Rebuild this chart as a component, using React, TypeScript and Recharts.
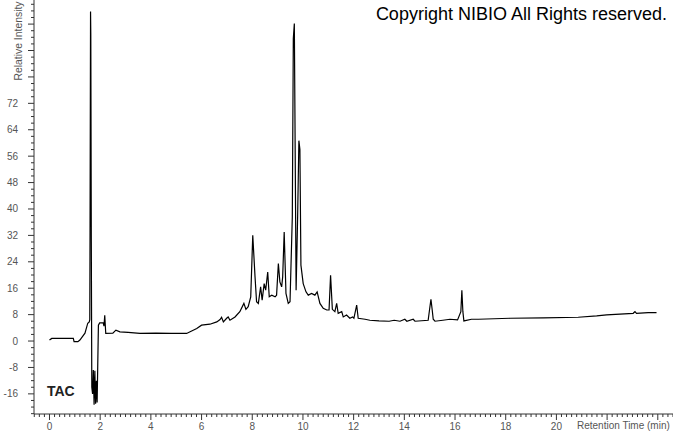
import React from "react";
import { LineChart, Line, XAxis, YAxis } from "recharts";

// retention time (min) and relative intensity
const times = [
  0.0, 0.09, 0.94, 0.97, 1.12, 1.2, 1.4, 1.51, 1.57, 1.59, 1.6, 1.62, 1.63, 1.65, 1.67, 1.7, 1.73, 1.76,
  1.79, 1.82, 1.85, 1.88, 1.93, 1.98, 2.12, 2.15, 2.18, 2.22, 2.5, 2.62, 2.78, 3.1, 3.57, 4.2, 4.8, 5.41,
  5.81, 6.0, 6.33, 6.6, 6.73, 6.79, 6.86, 6.99, 7.05, 7.12, 7.32, 7.51, 7.67, 7.75, 7.84, 7.94, 8.02, 8.11,
  8.17, 8.24, 8.33, 8.39, 8.47, 8.53, 8.61, 8.67, 8.77, 8.9, 8.96, 9.03, 9.09, 9.16, 9.2, 9.26, 9.33, 9.42,
  9.49, 9.58, 9.62, 9.66, 9.73, 9.79, 9.84, 9.88, 9.92, 10.01, 10.12, 10.21, 10.34, 10.47, 10.56, 10.67,
  10.8, 10.94, 11.03, 11.09, 11.16, 11.26, 11.33, 11.39, 11.53, 11.59, 11.72, 11.85, 11.96, 12.01, 12.12,
  12.18, 12.45, 12.64, 13.0, 13.4, 13.6, 13.83, 14.02, 14.1, 14.35, 14.42, 14.94, 15.01, 15.05, 15.1, 15.14,
  15.21, 15.52, 15.8, 16.1, 16.23, 16.27, 16.31, 16.35, 16.65, 16.92, 18.17, 19.48, 20.86, 21.59, 21.98,
  23.03, 23.1, 23.16, 23.62, 23.95,
];

const intensity = [
  0.3, 0.8, 0.8, -0.2, -0.2, 0.3, 2.4, 5.4, 5.8, 6.5, 33, 99.8, 93, 30, -14, -16, -8.8, -19.3,
  -9, -19, -12, -18.6, 4.8, 5.5, 5.5, 4.5, 7.8, 2.3, 2.4, 3.3, 2.8, 2.6, 2.3, 2.4, 2.3, 2.3,
  3.8, 4.8, 5.1, 5.8, 6.5, 7.2, 5.8, 6.9, 7.3, 6.3, 7.3, 8.9, 11.4, 9.6, 10.4, 13.4, 32, 19.4,
  11.9, 11.4, 16.4, 12.4, 17.4, 15.4, 20.9, 13.4, 13.9, 13.4, 13.9, 23.5, 17.9, 16.4, 19.4, 33, 14.4, 11.4,
  11.9, 37.5, 91.6, 96.2, 15.4, 37.5, 60.7, 58, 23, 17.4, 14.9, 13.9, 14.4, 13.9, 14.9, 11.4,
  9.9, 9.4, 9.4, 19.9, 9.6, 8.9, 11.4, 8.4, 8.9, 7.3, 7.9, 6.9, 7.3, 6.9, 10.9,
  6.9, 6.6, 6.3, 6.1, 6.0, 6.3, 6.0, 6.6, 6.0, 6.6, 6.0, 6.3, 10.4, 12.6, 9.4, 6.6,
  6.0, 6.3, 6.6, 6.4, 8.9, 15.4, 8.9, 6.1, 6.6, 6.6, 6.9, 7.0, 7.2, 7.6, 7.9,
  8.4, 8.9, 8.4, 8.6, 8.6,
];

const xDomain = [-0.611, 24.6];
const yDomain = [-22.1, 103.3];

// minor ticks every 0.2 min / 2 units, labelled majors
const xTicks: number[] = [];
for (let k = -3; k <= 123; k++) xTicks.push(Math.round(k * 2) / 10);
const yTicks: number[] = [];
for (let k = -11; k <= 51; k++) yTicks.push(k * 2);
const xLabelMax = 20;
const yLabelMin = -16;
const yLabelMax = 72;

const data = times.map((t, i) => ({ t, v: intensity[i] }));

const AXIS = "#333";
const LABEL = "#555";
const FONT = "Arial, 'Liberation Sans', sans-serif";

function XTick({ x, y, payload }: any) {
  const v = payload.value;
  const major = Math.abs(v / 2 - Math.round(v / 2)) < 1e-6;
  return (
    <g>
      <line x1={x} x2={x} y1={y} y2={y + (major ? 6 : 3)} stroke={AXIS} />
      {major && v >= 0 && v <= xLabelMax && (
        <text x={x} y={y + 16} textAnchor="middle" fontSize={10} fill={LABEL} fontFamily={FONT}>
          {v}
        </text>
      )}
    </g>
  );
}

function YTick({ x, y, payload }: any) {
  const v = payload.value;
  const major = v % 8 === 0;
  return (
    <g>
      <line x1={x - (major ? 6 : 3)} x2={x} y1={y} y2={y} stroke={AXIS} />
      {major && v >= yLabelMin && v <= yLabelMax && (
        <text x={18} y={y + 3.5} textAnchor="end" fontSize={10} fill={LABEL} fontFamily={FONT}>
          {v}
        </text>
      )}
    </g>
  );
}

export default function App() {
  return (
    <div style={{ position: "absolute", left: 0, top: 0, width: 673, height: 433, background: "#fff", overflow: "hidden" }}>
      <LineChart width={673} height={433} data={data} margin={{ top: 0, right: 0, left: 0, bottom: 0 }}>
        <XAxis
          dataKey="t"
          type="number"
          domain={xDomain}
          allowDataOverflow
          ticks={xTicks}
          interval={0}
          tick={<XTick />}
          tickLine={false}
          tickSize={0}
          tickMargin={0}
          height={19}
          axisLine={{ stroke: AXIS }}
        />
        <YAxis
          type="number"
          domain={yDomain}
          allowDataOverflow
          ticks={yTicks}
          interval={0}
          tick={<YTick />}
          tickLine={false}
          tickSize={0}
          tickMargin={0}
          width={34}
          axisLine={{ stroke: AXIS }}
        />
        <Line
          type="linear"
          dataKey="v"
          stroke="#000"
          strokeWidth={1.2}
          dot={false}
          activeDot={false}
          isAnimationActive={false}
        />
      </LineChart>
      <div
        style={{
          position: "absolute",
          left: 18,
          top: 41,
          transform: "translate(-50%, -50%) rotate(-90deg)",
          fontFamily: FONT,
          fontSize: 10.4,
          color: LABEL,
          whiteSpace: "nowrap",
        }}
      >
        Relative Intensity
      </div>
      <div
        style={{
          position: "absolute",
          right: 6,
          top: 4,
          fontFamily: FONT,
          fontSize: 18,
          color: "#000",
          whiteSpace: "nowrap",
        }}
      >
        Copyright NIBIO All Rights reserved.
      </div>
      <div
        style={{
          position: "absolute",
          left: 47,
          top: 383,
          fontFamily: FONT,
          fontSize: 14,
          fontWeight: "bold",
          color: "#222",
        }}
      >
        TAC
      </div>
      <div
        style={{
          position: "absolute",
          left: 577,
          top: 420,
          fontFamily: FONT,
          fontSize: 10,
          color: LABEL,
          whiteSpace: "nowrap",
        }}
      >
        Retention Time (min)
      </div>
    </div>
  );
}
